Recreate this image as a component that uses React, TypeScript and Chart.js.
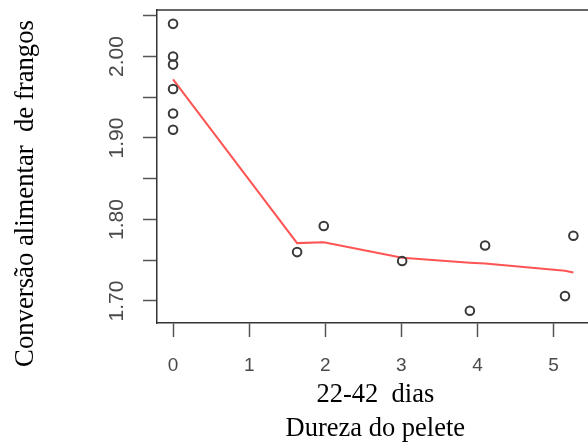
import React, { useEffect, useRef } from "react";
import { Chart, registerables } from "chart.js";

Chart.register(...registerables);

// Observed data: pellet hardness (x) vs broiler feed conversion (y)
const hardness = [0, 0, 0, 0, 0, 0, 1.63, 1.98, 3.01, 3.9, 4.1, 5.15, 5.26];
const conversion = [2.04, 2.0, 1.99, 1.96, 1.93, 1.91, 1.76, 1.792, 1.749, 1.688, 1.768, 1.706, 1.78];

// Smoothed fit (red line)
const fitX = [0, 1.63, 1.98, 3.01, 3.9, 4.1, 5.15, 5.26];
const fitY = [1.972, 1.771, 1.772, 1.753, 1.747, 1.746, 1.737, 1.735];

const yTitle = "Conversão alimentar  de frangos";
const xTitleLines = ["22-42  dias", "Dureza do pelete"];

const boxPlugin = {
  id: "boxAndTitle",
  afterDraw(chart: any) {
    const { ctx, chartArea } = chart;
    ctx.save();
    ctx.strokeStyle = "#333";
    ctx.lineWidth = 1.5;
    ctx.beginPath();
    ctx.moveTo(chartArea.left, chartArea.top);
    ctx.lineTo(chartArea.right, chartArea.top);
    ctx.stroke();
    ctx.restore();

    ctx.save();
    ctx.translate(33, 193.5);
    ctx.rotate(-Math.PI / 2);
    ctx.textAlign = "center";
    ctx.textBaseline = "alphabetic";
    ctx.fillStyle = "#000";
    ctx.font = '26.7px "Liberation Serif", "Times New Roman", serif';
    ctx.fillText(yTitle, 0, 0);
    ctx.restore();
  },
};

export default function App() {
  const ref = useRef<HTMLCanvasElement | null>(null);

  useEffect(() => {
    if (!ref.current) return;
    const points = hardness.map((x, i) => ({ x, y: conversion[i] }));
    const fit = fitX.map((x, i) => ({ x, y: fitY[i] }));
    const chart = new Chart(ref.current, {
      type: "scatter",
      data: {
        datasets: [
          {
            type: "line",
            data: fit,
            borderColor: "rgba(255,75,75,0.95)",
            borderWidth: 2,
            pointRadius: 0,
            tension: 0,
            fill: false,
            order: 2,
          } as any,
          {
            type: "scatter",
            data: points,
            pointStyle: "circle",
            pointRadius: 4.3,
            pointBorderWidth: 2,
            pointBorderColor: "#3a3a3a",
            pointBackgroundColor: "rgba(0,0,0,0)",
            order: 1,
          } as any,
        ],
      },
      options: {
        responsive: false,
        animation: false,
        layout: { padding: { top: 10, left: 0, right: 0, bottom: 0 } },
        plugins: {
          legend: { display: false },
          tooltip: { enabled: false },
        },
        scales: {
          x: {
            type: "linear",
            min: -0.211,
            max: 5.527,
            grid: {
              drawOnChartArea: false,
              drawTicks: true,
              tickLength: 14,
              tickColor: "#555",
              tickWidth: 1.5,
            },
            border: { display: true, color: "#333", width: 1.5 },
            ticks: {
              stepSize: 1,
              includeBounds: false,
              padding: 17,
              color: "#4a4a4a",
              font: { family: '"Liberation Sans", Arial, sans-serif', size: 19 },
              maxRotation: 0,
              minRotation: 0,
              callback: (v: any) => String(Math.round(Number(v))),
            },
            title: {
              display: true,
              text: xTitleLines,
              color: "#000",
              font: { family: '"Liberation Serif", "Times New Roman", serif', size: 26.5, lineHeight: "34px" },
              padding: { top: 0, bottom: -2 },
            },
            afterFit: (s: any) => {
              s.height = 121;
              s.paddingLeft = 0;
              s.paddingRight = 0;
            },
          },
          y: {
            type: "linear",
            min: 1.673,
            max: 2.057,
            grid: {
              drawOnChartArea: false,
              drawTicks: true,
              tickLength: 14,
              tickColor: "#555",
              tickWidth: 1.5,
            },
            border: { display: true, color: "#333", width: 1.5 },
            ticks: {
              stepSize: 0.05,
              includeBounds: false,
              minRotation: 90,
              maxRotation: 90,
              crossAlign: "center",
              padding: 5,
              color: "#4a4a4a",
              font: { family: '"Liberation Sans", Arial, sans-serif', size: 21 },
              callback: (v: any) => {
                const n = Math.round(Number(v) * 100);
                return n % 10 === 0 ? (n / 100).toFixed(2) : "";
              },
            },
            afterFit: (s: any) => {
              s.width = 157;
              s.paddingTop = 0;
              s.paddingBottom = 0;
            },
          },
        },
      } as any,
      plugins: [boxPlugin],
    });
    return () => chart.destroy();
  }, []);

  return (
    <div
      style={{
        position: "fixed",
        left: 0,
        top: 0,
        width: 588,
        height: 444,
        overflow: "hidden",
        background: "#fff",
      }}
    >
      <canvas ref={ref} width={600} height={444} style={{ width: 600, height: 444, display: "block" }} />
    </div>
  );
}
